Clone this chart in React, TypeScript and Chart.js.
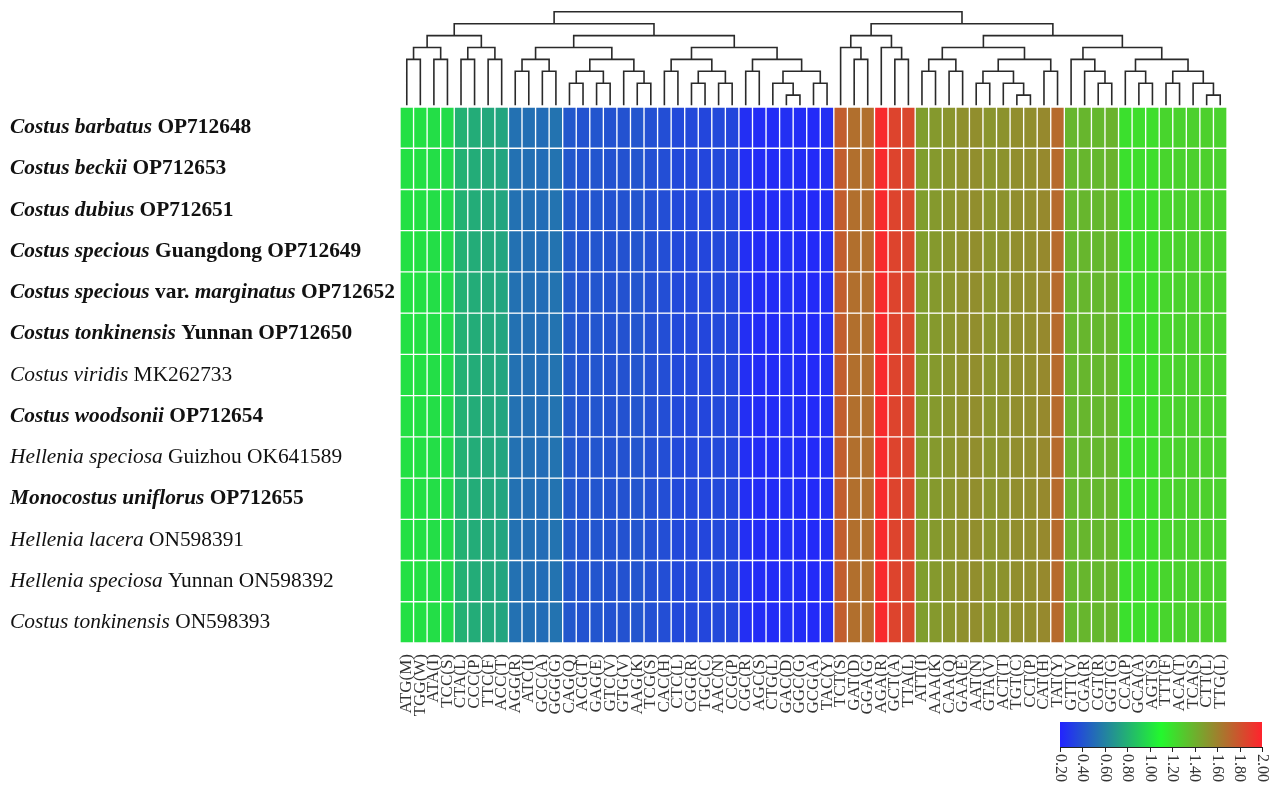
import { useEffect, useRef } from "react";
import { Chart, registerables } from "chart.js";
Chart.register(...registerables);

// ---------- data ----------
const codons = ["ATG(M)","TGG(W)","ATA(I)","TCC(S)","CTA(L)","CCC(P)","TTC(F)","ACC(T)","AGG(R)","ATC(I)","GCC(A)","GGG(G)","CAG(Q)","ACG(T)","GAG(E)","GTC(V)","GTG(V)","AAG(K)","TCG(S)","CAC(H)","CTC(L)","CGG(R)","TGC(C)","AAC(N)","CCG(P)","CGC(R)","AGC(S)","CTG(L)","GAC(D)","GGC(G)","GCG(A)","TAC(Y)","TCT(S)","GAT(D)","GGA(G)","AGA(R)","GCT(A)","TTA(L)","ATT(I)","AAA(K)","CAA(Q)","GAA(E)","AAT(N)","GTA(V)","ACT(T)","TGT(C)","CCT(P)","CAT(H)","TAT(Y)","GTT(V)","CGA(R)","CGT(R)","GGT(G)","CCA(P)","GCA(A)","AGT(S)","TTT(F)","ACA(T)","TCA(S)","CTT(L)","TTG(L)"];

// RSCU per codon (identical across the 13 plastomes in the picture)
const rscu = [
  1.00, 1.00, 0.99, 0.98,
  0.80, 0.78, 0.76, 0.75,
  0.53, 0.52, 0.51, 0.54,
  0.42, 0.40, 0.41, 0.40, 0.40, 0.41, 0.39,
  0.38, 0.36, 0.36, 0.35, 0.36, 0.35,
  0.25, 0.24, 0.24, 0.25, 0.24, 0.23, 0.25,
  1.75, 1.68, 1.68, 1.97, 1.86, 1.85,
  1.48, 1.50, 1.52, 1.54, 1.55, 1.52, 1.53, 1.55, 1.55, 1.57,
  1.70,
  1.38, 1.38, 1.37, 1.39,
  1.20, 1.21, 1.21, 1.25, 1.26, 1.27, 1.27, 1.26,
];

// row labels: segments [text, italic]
const rowLabels: [string, boolean][][] = [
  [["Costus barbatus", true], [" OP712648", false]],
  [["Costus beckii", true], [" OP712653", false]],
  [["Costus dubius", true], [" OP712651", false]],
  [["Costus specious", true], [" Guangdong OP712649", false]],
  [["Costus specious", true], [" var. ", false], ["marginatus", true], [" OP712652", false]],
  [["Costus tonkinensis", true], [" Yunnan OP712650", false]],
  [["Costus viridis", true], [" MK262733", false]],
  [["Costus woodsonii", true], [" OP712654", false]],
  [["Hellenia speciosa", true], [" Guizhou OK641589", false]],
  [["Monocostus uniflorus", true], [" OP712655", false]],
  [["Hellenia lacera", true], [" ON598391", false]],
  [["Hellenia speciosa", true], [" Yunnan ON598392", false]],
  [["Costus tonkinensis", true], [" ON598393", false]],
];
const rowBold = [true, true, true, true, true, true, false, true, false, true, false, false, false];

// column dendrogram: leaf = column index, node = [left, right, merge height]
type Node = number | [Node, Node, number];
const dendroTree: Node = [
  [
    [[[0, 1, 4], [2, 3, 4], 5], [[4, 5, 4], [6, 7, 4], 5], 6],
    [
      [[[8, 9, 3], [10, 11, 3], 4], [[[12, 13, 2], [14, 15, 2], 3], [16, [17, 18, 2], 3], 4], 5],
      [[[19, 20, 3], [[21, 22, 2], [23, 24, 2], 3], 4], [[25, 26, 3], [[27, [28, 29, 1], 2], [30, 31, 2], 3], 4], 5],
      6,
    ],
    7,
  ],
  [
    [[32, [33, 34, 4], 5], [35, [36, 37, 4], 5], 6],
    [
      [[[38, 39, 3], [40, 41, 3], 4], [[[42, 43, 2], [44, [45, 46, 1], 2], 3], [47, 48, 3], 4], 5],
      [[49, [50, [51, 52, 2], 3], 4], [[53, [54, 55, 2], 3], [[56, 57, 2], [58, [59, 60, 1], 2], 3], 4], 5],
      6,
    ],
    7,
  ],
  8,
];
const leafHeight = 0.15;

const colorbarTicks = ["0.20", "0.40", "0.60", "0.80", "1.00", "1.20", "1.40", "1.60", "1.80", "2.00"];
const colorMin = 0.2;
const colorMax = 2.0;

// ---------- helpers ----------
const stops: [number, number[]][] = [
  [0.2, [35, 35, 255]],
  [1.1, [35, 248, 45]],
  [2.0, [255, 35, 45]],
];
function colorFor(v: number): string {
  let i = 0;
  while (i < stops.length - 2 && v > stops[i + 1][0]) i++;
  const [v0, c0] = stops[i];
  const [v1, c1] = stops[i + 1];
  const t = Math.max(0, Math.min(1, (v - v0) / (v1 - v0)));
  const c = c0.map((a, k) => Math.round(a + (c1[k] - a) * t));
  return `rgb(${c[0]},${c[1]},${c[2]})`;
}

function dendroPoints(tree: Node) {
  const pts: { x: number; y: number | null }[] = [];
  const walk = (n: Node): { x: number; h: number } => {
    if (typeof n === "number") return { x: n, h: leafHeight };
    const a = walk(n[0]);
    const b = walk(n[1]);
    pts.push({ x: a.x, y: a.h }, { x: a.x, y: n[2] }, { x: b.x, y: n[2] }, { x: b.x, y: b.h }, { x: b.x, y: null });
    return { x: (a.x + b.x) / 2, h: n[2] };
  };
  walk(tree);
  return pts;
}

const SERIF = "'Liberation Serif', 'Times New Roman', serif";

export default function App() {
  const ref = useRef<HTMLCanvasElement | null>(null);
  useEffect(() => {
    document.body.style.margin = "0";
    if (!ref.current) return;

    const heatDatasets = rowLabels.map((_, r) => ({
      type: "bar" as const,
      data: codons.map((_, j) => ({ x: j, y: [r, r + 1] })),
      backgroundColor: rscu.map(colorFor),
      borderColor: "#ffffff",
      borderWidth: 1,
      borderSkipped: false,
      barPercentage: 1,
      categoryPercentage: 1,
      grouped: false,
      xAxisID: "x",
      yAxisID: "y",
    }));

    const dendroDataset = {
      type: "line" as const,
      data: dendroPoints(dendroTree),
      borderColor: "#2a2a2a",
      borderWidth: 1.6,
      pointRadius: 0,
      tension: 0,
      spanGaps: false,
      fill: false,
      xAxisID: "x",
      yAxisID: "yd",
    };

    const labelPlugin = {
      id: "extras",
      afterDraw(chart: any) {
        const ctx = chart.ctx as CanvasRenderingContext2D;
        const ys = chart.scales.y;
        ctx.save();
        ctx.textBaseline = "middle";
        ctx.textAlign = "left";
        ctx.fillStyle = "#111";
        rowLabels.forEach((segs, r) => {
          let x = 10;
          const py = ys.getPixelForValue(r + 0.5);
          segs.forEach(([t, it]) => {
            ctx.font = `${it ? "italic " : ""}${rowBold[r] ? "bold " : ""}21.4px ${SERIF}`;
            ctx.fillText(t, x, py);
            x += ctx.measureText(t).width;
          });
        });

        // colour key
        const L = 1060, R = 1262, T = 722, B = 747;
        const g = ctx.createLinearGradient(L, 0, R, 0);
        stops.forEach(([v]) => g.addColorStop((v - colorMin) / (colorMax - colorMin), colorFor(v)));
        ctx.fillStyle = g;
        ctx.fillRect(L, T, R - L, B - T);
        ctx.strokeStyle = "#222";
        ctx.lineWidth = 1;
        ctx.beginPath();
        ctx.moveTo(L, B + 0.5);
        ctx.lineTo(R, B + 0.5);
        colorbarTicks.forEach((lab) => {
          const px = Math.round(L + ((parseFloat(lab) - colorMin) / (colorMax - colorMin)) * (R - L)) + 0.5;
          ctx.moveTo(px, B);
          ctx.lineTo(px, B + 5);
        });
        ctx.stroke();
        ctx.fillStyle = "#333";
        ctx.font = `16px ${SERIF}`;
        colorbarTicks.forEach((lab) => {
          const px = L + ((parseFloat(lab) - colorMin) / (colorMax - colorMin)) * (R - L);
          ctx.save();
          ctx.translate(px, B + 7);
          ctx.rotate(Math.PI / 2);
          ctx.textAlign = "left";
          ctx.textBaseline = "middle";
          ctx.fillText(lab, 0, 0);
          ctx.restore();
        });
        ctx.restore();
      },
    };

    const chart = new Chart(ref.current, {
      type: "bar",
      data: { datasets: [...heatDatasets, dendroDataset] as any },
      options: {
        animation: false,
        responsive: false,
        layout: { padding: { left: 400, right: 45, top: 8, bottom: 0 } },
        plugins: { legend: { display: false }, tooltip: { enabled: false } },
        events: [],
        scales: {
          x: {
            type: "linear",
            min: -0.5,
            max: 60.5,
            offset: false,
            grid: { display: false },
            border: { display: false },
            afterBuildTicks: (s: any) => {
              s.ticks = codons.map((_, i) => ({ value: i }));
            },
            afterFit: (s: any) => {
              s.height = 147;
            },
            ticks: {
              autoSkip: false,
              minRotation: 90,
              maxRotation: 90,
              padding: 3,
              color: "#333",
              font: { family: SERIF, size: 17 },
              callback: (v: any) => codons[Number(v)] ?? "",
            },
          },
          yd: {
            type: "linear",
            position: "left",
            display: false,
            stack: "v",
            stackWeight: 99,
            weight: 2,
            min: 0,
            max: 8.32,
          },
          y: {
            type: "linear",
            position: "left",
            display: false,
            stack: "v",
            stackWeight: 536,
            weight: 1,
            min: 0,
            max: 13,
            reverse: true,
          },
        } as any,
      },
      plugins: [labelPlugin],
    });
    return () => chart.destroy();
  }, []);

  return (
    <div style={{ width: 1272, height: 790 }}>
      <canvas ref={ref} width={1272} height={790} style={{ display: "block" }} />
    </div>
  );
}
